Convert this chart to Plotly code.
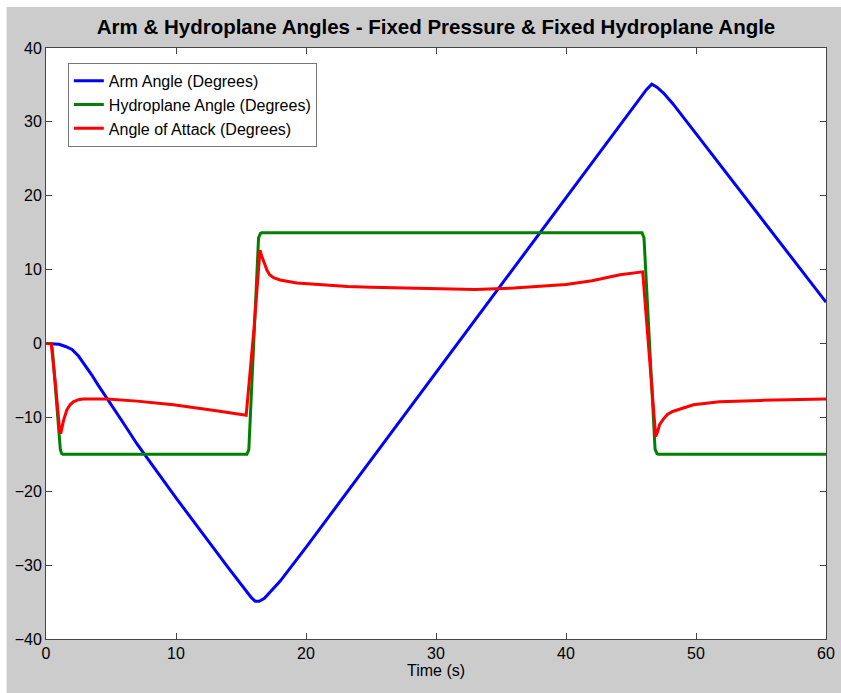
import plotly.graph_objects as go

# ---- data ----
arm_t = [0, 0.5, 1, 1.5, 2, 2.5, 3, 3.5, 4, 5, 6, 7, 10, 14, 15, 15.5, 15.8, 16.1, 16.4,
         16.8, 17.3, 18, 20, 30, 40, 45, 45.8, 46.2, 46.6, 47, 47.5, 48.2, 50, 55, 60]
arm_v = [0, 0, -0.1, -0.4, -0.8, -1.7, -2.9, -4.2, -5.6, -8.2, -10.9, -13.6, -20.9,
         -30.3, -32.6, -33.7, -34.4, -34.9, -34.9, -34.5, -33.6, -32.2, -27.6, -4.0,
         19.6, 31.4, 33.4, 34.4, 35.1, 34.7, 33.9, 32.5, 28.4, 17.0, 5.6]

hyd_t = [0, 0.4, 0.5, 1.1, 1.2, 1.3, 15.45, 15.6, 16.35, 16.5, 16.6, 45.85, 46.0,
         46.85, 47.0, 47.1, 60]
hyd_v = [0, 0, -1, -14.3, -14.9, -15, -15, -14.4, 14.3, 14.9, 15, 15, 14.3,
         -14.3, -14.9, -15, -15]

aoa_t = [0, 0.4, 0.7, 1.05, 1.13, 1.25, 1.35, 1.6, 1.85, 2.1, 2.5, 2.85, 4.7, 7, 9.8,
         13.1, 15.4, 16.0, 16.46, 16.6, 16.8, 17.0, 17.2, 17.5, 18, 19.3, 21.8, 23.2, 25,
         30, 33, 36, 40, 42, 44.15, 45.9, 46.4, 46.9, 47.05, 47.2, 47.5, 47.8, 48.2, 49,
         49.8, 51.8, 55, 60]
aoa_v = [0, 0, -5, -11.8, -12.2, -11.2, -10.4, -9.0, -8.3, -7.9, -7.6, -7.5, -7.5, -7.8,
         -8.3, -9.1, -9.7, 2.0, 12.65, 11.8, 10.8, 9.9, 9.3, 8.9, 8.6, 8.2, 7.9, 7.7, 7.6,
         7.4, 7.3, 7.5, 8.0, 8.5, 9.3, 9.7, -1.5, -12.6, -11.9, -11.0, -10.2, -9.6, -9.2,
         -8.7, -8.3, -7.9, -7.7, -7.5]

names = ["Arm Angle (Degrees)", "Hydroplane Angle (Degrees)", "Angle of Attack (Degrees)"]
colors = ["#0000ff", "#008000", "#ff0000"]

x_ticks = [0, 10, 20, 30, 40, 50, 60]
y_ticks = [-40, -30, -20, -10, 0, 10, 20, 30, 40]

font = "Liberation Sans, Arial, sans-serif"

fig = go.Figure()
for t, v, n, c in zip([arm_t, hyd_t, aoa_t], [arm_v, hyd_v, aoa_v], names, colors):
    fig.add_trace(go.Scatter(x=t, y=v, mode="lines", name=n,
                             line=dict(color=c, width=3)))

axis_common = dict(showgrid=False, zeroline=False, showline=True, linecolor="#444444",
                   linewidth=1, mirror="ticks", ticks="inside", ticklen=6,
                   tickcolor="#444444", tickfont=dict(family=font, size=16, color="black"),
                   automargin=False)

fig.update_layout(
    width=841, height=693,
    paper_bgcolor="#cccccc", plot_bgcolor="white",
    margin=dict(l=46, r=15, t=48, b=54, autoexpand=False),
    title=dict(text="<b>Arm & Hydroplane Angles - Fixed Pressure & Fixed Hydroplane Angle</b>",
               x=0.5, xref="paper", y=1 - 27 / 693, yref="container", yanchor="middle",
               font=dict(family=font, size=20.5, color="black")),
    xaxis=dict(range=[0, 60], tickvals=x_ticks,
               title=dict(text="Time (s)", font=dict(family=font, size=16, color="black"),
                          standoff=2),
               **axis_common),
    yaxis=dict(range=[-40, 40], tickvals=y_ticks, **axis_common),
    legend=dict(x=0.028, y=0.975, xanchor="left", yanchor="top",
                bgcolor="white", bordercolor="#777777", borderwidth=1,
                font=dict(family=font, size=16, color="black"),
                tracegroupgap=0, itemwidth=30),
    showlegend=True,
    shapes=[
        dict(type="rect", xref="paper", yref="paper", x0=-0.07, x1=-0.0505,
             y0=-0.2, y1=1.2, fillcolor="white", line=dict(width=0), layer="below"),
        dict(type="rect", xref="paper", yref="paper", x0=-0.1, x1=1.1,
             y0=(639 - 7) / 591, y1=1.2, fillcolor="white", line=dict(width=0), layer="below"),
    ],
)

fig.write_html("out.html")
